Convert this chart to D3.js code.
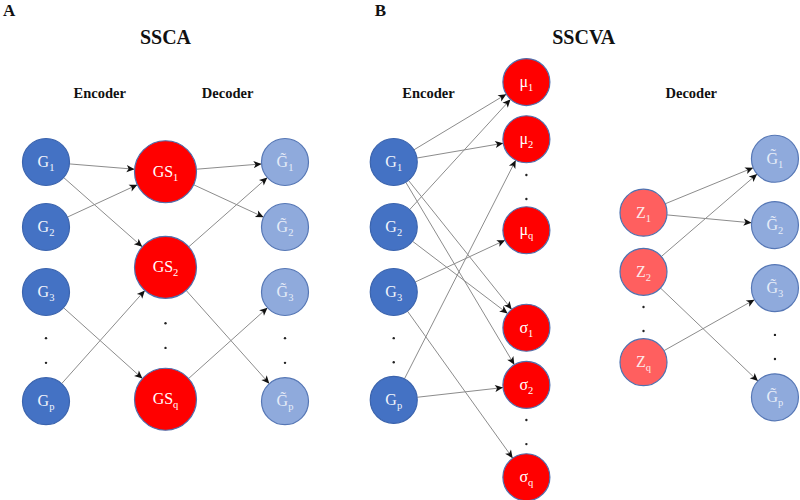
<!DOCTYPE html>
<html>
<head>
<meta charset="utf-8">
<script src="https://cdn.jsdelivr.net/npm/d3@7"></script>
<style>
  body { margin: 0; background: #fff; }
  text { font-family: "Liberation Serif", "Times New Roman", serif; }
</style>
</head>
<body>
<div id="diagram"></div>
<script>
// Set width and height for SVG object
var svgWidth = 800;
var svgHeight = 500;

// Node lists: [id, base letter, subscript, tilde, column, row]
var nodesA = [
  ["aG1", "G", "1", false, 0, 0],
  ["aG2", "G", "2", false, 0, 1],
  ["aG3", "G", "3", false, 0, 2],
  ["aGp", "G", "p", false, 0, 3.68],
  ["aS1", "GS", "1", false, 1, 0.15],
  ["aS2", "GS", "2", false, 1, 1.62],
  ["aSq", "GS", "q", false, 1, 3.65],
  ["aH1", "G", "1", true, 2, 0],
  ["aH2", "G", "2", true, 2, 1],
  ["aH3", "G", "3", true, 2, 2],
  ["aHp", "G", "p", true, 2, 3.68]
];

var nodesB = [
  ["bG1", "G", "1", false, 2.91, 0],
  ["bG2", "G", "2", false, 2.91, 1],
  ["bG3", "G", "3", false, 2.91, 2],
  ["bGp", "G", "p", false, 2.91, 3.66],
  ["bM1", "μ", "1", false, 4.02, -1.23],
  ["bM2", "μ", "2", false, 4.02, -0.35],
  ["bMq", "μ", "q", false, 4.02, 1.05],
  ["bS1", "σ", "1", false, 4.02, 2.55],
  ["bS2", "σ", "2", false, 4.02, 3.43],
  ["bSq", "σ", "q", false, 4.02, 4.85],
  ["bZ1", "Z", "1", false, 5.0, 0.78],
  ["bZ2", "Z", "2", false, 5.0, 1.69],
  ["bZq", "Z", "q", false, 5.0, 3.08],
  ["bH1", "G", "1", true, 6.1, -0.05],
  ["bH2", "G", "2", true, 6.1, 0.97],
  ["bH3", "G", "3", true, 6.1, 1.94],
  ["bHp", "G", "p", true, 6.1, 3.62]
];

// Node kind by id prefix
var nodeKinds = {
  aG: "input", aS: "code", aH: "output",
  bG: "input", bM: "code", bS: "code", bZ: "latent", bH: "output"
};

// Edges: [source, target]
var linksA = [
  ["aG1", "aS1"], ["aG1", "aS2"], ["aG2", "aS1"], ["aG3", "aSq"], ["aGp", "aS2"],
  ["aS1", "aH1"], ["aS1", "aH2"], ["aS2", "aH1"], ["aS2", "aHp"], ["aSq", "aH3"]
];

var linksB = [
  ["bG1", "bM1"], ["bG1", "bM2"], ["bG1", "bS1"], ["bG1", "bS2"],
  ["bG2", "bM1"], ["bG2", "bS1"],
  ["bG3", "bMq"], ["bG3", "bSq"],
  ["bGp", "bM2"], ["bGp", "bS2"],
  ["bZ1", "bH1"], ["bZ1", "bH2"], ["bZ2", "bH1"], ["bZ2", "bHp"], ["bZq", "bH3"]
];

// Vertical ellipsis dots: [column, row]
var dotsA = [[0, 2.71], [0, 3.09], [1, 2.48], [1, 2.86], [2, 2.71], [2, 3.09]];
var dotsB = [[2.91, 2.71], [2.91, 3.08], [4.02, 0.2], [4.02, 0.57], [4.02, 3.97], [4.02, 4.34],
  [5.0, 2.23], [5.0, 2.6], [6.1, 2.66], [6.1, 3.03]];

// Headings: [text, column, row, size]
var headings = [
  ["SSCA", 1, -1.82, 20], ["SSCVA", 4.5, -1.82, 20],
  ["Encoder", 0.45, -0.98, 14.5], ["Decoder", 1.52, -0.98, 14.5],
  ["Encoder", 3.2, -0.98, 14.5], ["Decoder", 5.4, -0.98, 14.5]
];

var panelLabels = [["A", -0.36], ["B", 2.75]];

// Scales: column -> x, row -> y
var xScale = d3.scaleLinear().domain([0, 1]).range([46, 165.5]);
var yScale = d3.scaleLinear().domain([0, 1]).range([162, 227]);

var styles = {
  input: { r: 23.5, fill: "#4472C4", stroke: "#3B64AE", text: "#F2F5FB" },
  code: { r: 23.5, fill: "#FF0000", stroke: "#4F6FAD", text: "#FFFFFF" },
  latent: { r: 23.5, fill: "#FF5F5F", stroke: "#4E72B0", text: "#FCE9E9" },
  output: { r: 23.5, fill: "#8FAADC", stroke: "#5677B5", text: "#E6EDF8" }
};

var svg = d3.select("#diagram")
  .append("svg")
  .attr("width", svgWidth)
  .attr("height", svgHeight);

// Arrowhead marker
svg.append("defs").append("marker")
  .attr("id", "arrow")
  .attr("viewBox", "0 -5 10 10")
  .attr("refX", 10)
  .attr("refY", 0)
  .attr("markerUnits", "userSpaceOnUse")
  .attr("markerWidth", 10)
  .attr("markerHeight", 8)
  .attr("orient", "auto")
  .append("path")
  .attr("d", "M0,-4.5L10,0L0,4.5L2.5,0Z")
  .attr("fill", "#111");

function toNodes(list) {
  return list.map(function(d) {
    var kind = nodeKinds[d[0].slice(0, 2)];
    var st = styles[kind];
    // GS nodes are bigger
    var r = d[1] === "GS" ? 31 : st.r;
    return { id: d[0], base: d[1], sub: d[2], tilde: d[3], x: xScale(d[4]), y: yScale(d[5]), r: r, style: st };
  });
}

function drawPanel(nodeList, linkList, dotList) {
  var nodes = toNodes(nodeList);
  var byId = {};
  nodes.forEach(function(n) { byId[n.id] = n; });

  var g = svg.append("g");

  // links drawn from circle edge to circle edge
  g.selectAll("line")
    .data(linkList)
    .enter()
    .append("line")
    .attr("x1", function(d) {
      var s = byId[d[0]], t = byId[d[1]];
      var a = Math.atan2(t.y - s.y, t.x - s.x);
      return s.x + Math.cos(a) * s.r;
    })
    .attr("y1", function(d) {
      var s = byId[d[0]], t = byId[d[1]];
      var a = Math.atan2(t.y - s.y, t.x - s.x);
      return s.y + Math.sin(a) * s.r;
    })
    .attr("x2", function(d) {
      var s = byId[d[0]], t = byId[d[1]];
      var a = Math.atan2(t.y - s.y, t.x - s.x);
      return t.x - Math.cos(a) * t.r;
    })
    .attr("y2", function(d) {
      var s = byId[d[0]], t = byId[d[1]];
      var a = Math.atan2(t.y - s.y, t.x - s.x);
      return t.y - Math.sin(a) * t.r;
    })
    .attr("stroke", "#8C8C8C")
    .attr("stroke-width", 1)
    .attr("marker-end", "url(#arrow)");

  var node = g.selectAll("g.node")
    .data(nodes)
    .enter()
    .append("g")
    .attr("class", "node")
    .attr("transform", d => `translate(${d.x}, ${d.y})`);

  node.append("circle")
    .attr("r", d => d.r)
    .attr("fill", d => d.style.fill)
    .attr("stroke", d => d.style.stroke)
    .attr("stroke-width", 1.2);

  var label = node.append("text")
    .attr("text-anchor", "middle")
    .attr("y", 5)
    .attr("fill", d => d.style.text)
    .attr("font-size", 16);

  label.append("tspan")
    .text(d => d.tilde ? d.base + "\u0303" : d.base);

  label.append("tspan")
    .attr("font-size", 10.5)
    .attr("dy", 4)
    .text(d => d.sub);

  g.selectAll("circle.dot")
    .data(dotList)
    .enter()
    .append("circle")
    .attr("class", "dot")
    .attr("cx", d => xScale(d[0]))
    .attr("cy", d => yScale(d[1]))
    .attr("r", 1.2)
    .attr("fill", "#222");
}

drawPanel(nodesA, linksA, dotsA);
drawPanel(nodesB, linksB, dotsB);

// headings
svg.selectAll("text.heading")
  .data(headings)
  .enter()
  .append("text")
  .attr("class", "heading")
  .attr("x", d => xScale(d[1]))
  .attr("y", d => yScale(d[2]))
  .attr("text-anchor", "middle")
  .attr("font-weight", "bold")
  .attr("font-size", d => d[3])
  .attr("fill", "#111")
  .text(d => d[0]);

svg.selectAll("text.panel")
  .data(panelLabels)
  .enter()
  .append("text")
  .attr("class", "panel")
  .attr("x", d => xScale(d[1]))
  .attr("y", 16)
  .attr("font-weight", "bold")
  .attr("font-size", 17)
  .attr("fill", "#111")
  .text(d => d[0]);
</script>
</body>
</html>
